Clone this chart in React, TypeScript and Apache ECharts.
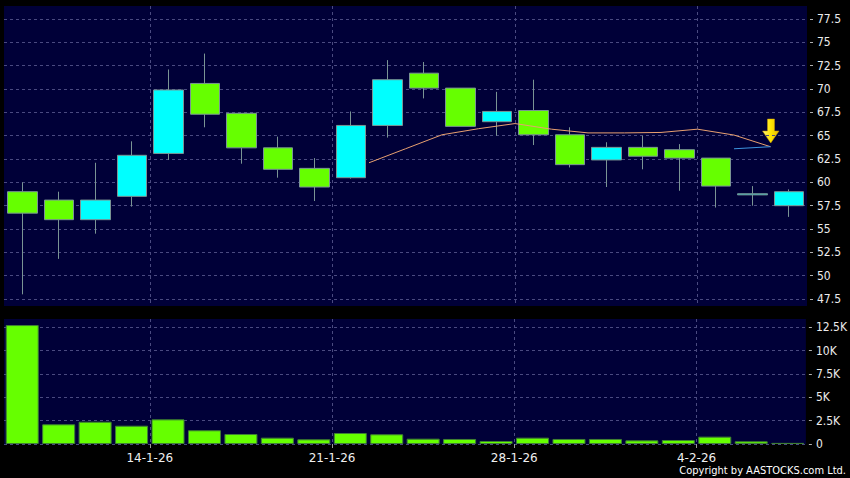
import React, { useEffect, useRef } from "react";
import * as echarts from "echarts";

// ---- Data ----
const dates = [
  "8-1-26", "9-1-26", "12-1-26", "13-1-26", "14-1-26", "15-1-26", "16-1-26",
  "19-1-26", "20-1-26", "21-1-26", "22-1-26", "23-1-26", "26-1-26", "27-1-26",
  "28-1-26", "29-1-26", "30-1-26", "2-2-26", "3-2-26", "4-2-26", "5-2-26", "6-2-26",
];
const opens = [59.0, 58.1, 56.0, 58.5, 63.1, 70.6, 67.4, 63.7, 61.5, 60.5, 66.1, 71.7, 70.1, 66.5, 67.7, 65.1, 62.4, 63.75, 63.5, 62.6, 58.66, 57.5];
const closes = [56.7, 56.0, 58.1, 62.9, 69.9, 67.3, 63.7, 61.4, 59.5, 66.1, 71.0, 70.1, 66.0, 67.6, 65.1, 61.9, 63.75, 62.8, 62.6, 59.6, 58.78, 59.0];
const lows = [48.0, 51.8, 54.5, 57.4, 62.4, 65.9, 62.0, 60.5, 58.0, 60.4, 64.8, 69.0, 66.0, 65.0, 64.0, 61.6, 59.5, 61.4, 59.1, 57.3, 57.5, 56.3];
const highs = [60.0, 59.0, 62.1, 64.4, 72.1, 73.8, 67.4, 64.9, 62.6, 67.6, 73.1, 72.9, 70.1, 69.7, 71.0, 65.9, 64.3, 65.0, 64.1, 62.6, 59.6, 59.25];
const volumes = [12750, 2110, 2390, 1960, 2640, 1470, 1070, 680, 500, 1180, 1040, 570, 540, 320, 680, 540, 540, 390, 430, 790, 290, 120];
// moving average, plotted on the boundaries between sessions
const maLine = [null, null, null, null, null, null, null, null, null, null, 62.1, 63.6, 65.1, 65.75, 66.3, 65.7, 65.3, 65.3, 65.35, 65.7, 65.07, 63.82, null];
const blueLine = [null, null, null, null, null, null, null, null, null, null, null, null, null, null, null, null, null, null, null, null, 63.6, 63.82, null];
const weekTickIdx = [4, 9, 14, 19];
const priceTicks = [47.5, 50, 52.5, 55, 57.5, 60, 62.5, 65, 67.5, 70, 72.5, 75, 77.5];
const volumeTicks = [0, 2500, 5000, 7500, 10000, 12500];

const boundaryLabels = [...dates, ""];
const ohlc = opens.map((o, i) => [o, closes[i], lows[i], highs[i]]);

const GRID_BG = "#000038";
const GRID_LINE = { color: "#4a4a80", type: [3, 3] as any, width: 1 };
const LABEL_FONT = "'DejaVu Sans Condensed', 'DejaVu Sans', sans-serif";
const showWeek = (i: number) => weekTickIdx.includes(i);

export default function App() {
  const ref = useRef<HTMLDivElement>(null);
  useEffect(() => {
    if (!ref.current) return;
    const chart = echarts.init(ref.current, undefined, { renderer: "svg" });
    const option: any = {
      animation: false,
      backgroundColor: "#000000",
      grid: [
        { left: 4, top: 6, width: 803, height: 300, show: true, backgroundColor: GRID_BG, borderWidth: 0 },
        { left: 4, top: 319, width: 803, height: 125, show: true, backgroundColor: GRID_BG, borderWidth: 0 },
      ],
      xAxis: [
        { type: "category", gridIndex: 0, data: dates, boundaryGap: true, show: false },
        {
          type: "category", gridIndex: 0, data: boundaryLabels, boundaryGap: false,
          axisLine: { show: false }, axisTick: { show: false }, axisLabel: { show: false },
          splitLine: { show: true, interval: showWeek, lineStyle: GRID_LINE },
        },
        { type: "category", gridIndex: 1, data: dates, boundaryGap: true, show: false },
        {
          type: "category", gridIndex: 1, data: boundaryLabels, boundaryGap: false, position: "bottom",
          axisLine: { show: false },
          axisTick: { show: true, interval: showWeek, length: 4, lineStyle: { color: "#9a9a9a" } },
          axisLabel: {
            interval: showWeek, margin: 8,
            color: "#f0f0f0", fontSize: 12, fontFamily: "'DejaVu Sans', sans-serif",
          },
          splitLine: { show: true, interval: showWeek, lineStyle: GRID_LINE },
        },
      ],
      yAxis: [
        {
          type: "value", gridIndex: 0, position: "right", min: 46.75, max: 78.9, offset: 3,
          axisLine: { show: false },
          axisTick: { show: true, length: 3, customValues: priceTicks, lineStyle: { color: "#b0b0b0" } },
          axisLabel: { customValues: priceTicks, margin: 7, color: "#ececec", fontSize: 12, fontFamily: LABEL_FONT },
          splitLine: { show: true, lineStyle: GRID_LINE },
        },
        {
          type: "value", gridIndex: 1, position: "right", min: 0, max: 13400, offset: 3,
          axisLine: { show: false },
          axisTick: { show: true, length: 3, customValues: volumeTicks, lineStyle: { color: "#b0b0b0" } },
          axisLabel: {
            customValues: volumeTicks, margin: 7, color: "#ececec", fontSize: 12, fontFamily: LABEL_FONT,
            formatter: (v: number) => (v === 0 ? "0" : v / 1000 + "K"),
          },
          splitLine: { show: true, lineStyle: GRID_LINE },
        },
      ],
      series: [
        {
          type: "candlestick", xAxisIndex: 0, yAxisIndex: 0, data: ohlc, barWidth: 30,
          itemStyle: {
            color: "#00ffff", color0: "#66ff00",
            borderColor: "#7a9494", borderColor0: "#7a9494", borderWidth: 1,
          },
        },
        {
          type: "line", xAxisIndex: 1, yAxisIndex: 0, data: maLine, symbol: "none",
          lineStyle: { color: "#e8a070", width: 1 },
        },
        {
          type: "line", xAxisIndex: 1, yAxisIndex: 0, data: blueLine, symbol: "none",
          lineStyle: { color: "#3d95e0", width: 1 },
        },
        {
          type: "bar", xAxisIndex: 2, yAxisIndex: 1, data: volumes, barWidth: 33,
          itemStyle: { color: "#66ff00", borderColor: "#3f7f34", borderWidth: 1 },
        },
      ],
      graphic: [
        {
          type: "polygon",
          shape: {
            points: [[767.5, 119], [774.5, 119], [774.5, 131], [779, 131], [770.75, 143], [762.5, 131], [767.5, 131]],
          },
          style: {
            fill: new echarts.graphic.LinearGradient(0, 0, 1, 0, [
              { offset: 0, color: "#fff27a" },
              { offset: 0.5, color: "#ffe600" },
              { offset: 1, color: "#e8b800" },
            ]),
            stroke: "#c89a00", lineWidth: 0.5,
          },
        },
        {
          type: "text", right: 4, top: 465,
          style: { text: "Copyright by AASTOCKS.com Ltd.", fill: "#ffffff", fontSize: 11, fontFamily: LABEL_FONT },
        },
      ],
    };
    chart.setOption(option);
    return () => chart.dispose();
  }, []);
  return (
    <div
      ref={ref}
      style={{ position: "fixed", left: 0, top: 0, width: 850, height: 478, background: "#000" }}
    />
  );
}
